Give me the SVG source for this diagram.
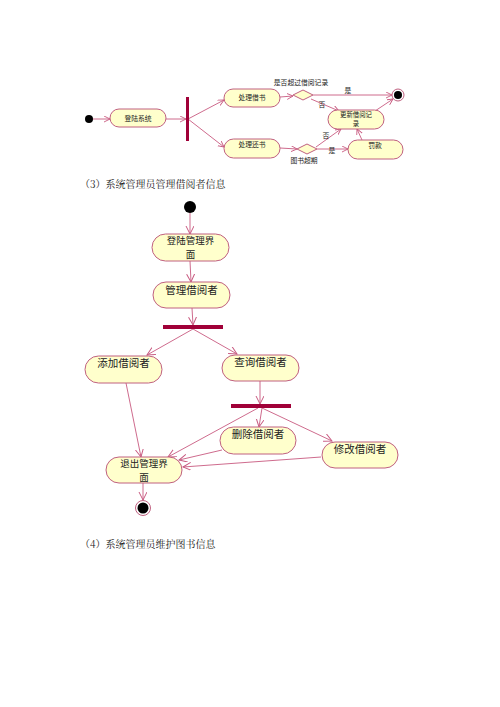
<svg xmlns="http://www.w3.org/2000/svg" width="500" height="707" viewBox="0 0 500 707">
<defs>
<style>
.n{fill:#ffffcc;stroke:#c06080;stroke-width:1}
.l{fill:none;stroke:#c85a80;stroke-width:0.9}
.bar{fill:#a00038}
.t1{font-family:"Noto Sans CJK SC","Liberation Sans",sans-serif;font-size:6.8px;fill:#222;text-anchor:middle}
.t1s{font-family:"Noto Sans CJK SC","Liberation Sans",sans-serif;font-size:6.4px;fill:#222;text-anchor:middle}
.t2{font-family:"Noto Sans CJK SC","Liberation Sans",sans-serif;font-size:10.5px;fill:#222;text-anchor:middle}
.t2s{font-family:"Noto Sans CJK SC","Liberation Sans",sans-serif;font-size:9.5px;fill:#222;text-anchor:middle}
.cap{font-family:"Noto Serif CJK SC","Noto Sans CJK SC","Liberation Serif",serif;font-size:10px;fill:#222}
</style>
<marker id="a1" markerUnits="userSpaceOnUse" markerWidth="8" markerHeight="8" refX="6" refY="3" orient="auto"><path d="M0,0 L6,3 L0,6" fill="none" stroke="#c85a80" stroke-width="0.9"/></marker>
<marker id="a2" markerUnits="userSpaceOnUse" markerWidth="10" markerHeight="10" refX="8" refY="4" orient="auto"><path d="M0,0 L8,4 L0,8" fill="none" stroke="#c85a80" stroke-width="1"/></marker>
</defs>

<g id="connectors1">
<line class="l" x1="93" y1="119" x2="110" y2="119" marker-end="url(#a1)"/>
<line class="l" x1="166" y1="119" x2="186" y2="119" marker-end="url(#a1)"/>
<line class="l" x1="188" y1="119" x2="224" y2="100" marker-end="url(#a1)"/>
<line class="l" x1="188" y1="119" x2="224" y2="147" marker-end="url(#a1)"/>
<line class="l" x1="280" y1="97" x2="293" y2="96" marker-end="url(#a1)"/>
<line class="l" x1="313" y1="95" x2="392" y2="95" marker-end="url(#a1)"/>
<line class="l" x1="311" y1="99" x2="339" y2="111" marker-end="url(#a1)"/>
<line class="l" x1="280" y1="148" x2="297" y2="149" marker-end="url(#a1)"/>
<line class="l" x1="316" y1="147" x2="341" y2="129" marker-end="url(#a1)"/>
<line class="l" x1="317" y1="149" x2="348" y2="149" marker-end="url(#a1)"/>
<line class="l" x1="362" y1="140" x2="357" y2="129" marker-end="url(#a1)"/>
<line class="l" x1="375" y1="111" x2="393" y2="99" marker-end="url(#a1)"/>
</g>

<g id="start1"><circle cx="89" cy="119" r="4" fill="#000"/></g>
<g id="login-sys"><rect class="n" x="110" y="109" width="56" height="18" rx="9"/><text class="t1" x="138" y="121">登陆系统</text></g>
<g id="fork1"><rect class="bar" x="186" y="97" width="3" height="44"/></g>
<g id="borrow"><rect class="n" x="224" y="89" width="56" height="18" rx="9"/><text class="t1" x="252" y="100">处理借书</text></g>
<g id="dec1"><polygon class="n" points="293,95 303,90 313,95 303,100"/><text class="t1" x="301" y="85">是否超过借阅记录</text></g>
<g id="end1"><circle cx="398" cy="95" r="6" fill="#fff" stroke="#c06080"/><circle cx="398" cy="95" r="4" fill="#000"/></g>
<g id="update"><rect class="n" x="328" y="110" width="56" height="19" rx="9.5"/><text class="t1s" x="356" y="117">更新借阅记</text><text class="t1s" x="356" y="126.4">录</text></g>
<g id="return"><rect class="n" x="224" y="139" width="56" height="19" rx="9.5"/><text class="t1" x="252" y="147">处理还书</text></g>
<g id="dec2"><polygon class="n" points="297,149 307,144 317,149 307,154"/><text class="t1" x="304" y="163">图书超期</text></g>
<g id="fine"><rect class="n" x="348" y="140" width="55" height="19" rx="9.5"/><text class="t1" x="375" y="148">罚款</text></g>
<g id="labels1">
<text class="t1" x="348" y="93">是</text>
<text class="t1" x="322" y="107">否</text>
<text class="t1" x="326" y="138">否</text>
<text class="t1" x="332" y="153">是</text>
</g>

<text class="cap" x="80" y="188">（3）系统管理员管理借阅者信息</text>

<g id="connectors2">
<line class="l" x1="190" y1="213" x2="190" y2="234" marker-end="url(#a2)"/>
<line class="l" x1="190" y1="261" x2="191" y2="282" marker-end="url(#a2)"/>
<line class="l" x1="192" y1="308" x2="193" y2="325" marker-end="url(#a2)"/>
<line class="l" x1="193" y1="329" x2="147" y2="355" marker-end="url(#a2)"/>
<line class="l" x1="193" y1="329" x2="237" y2="354" marker-end="url(#a2)"/>
<line class="l" x1="260" y1="381" x2="260" y2="404" marker-end="url(#a2)"/>
<line class="l" x1="262" y1="408" x2="259" y2="427" marker-end="url(#a2)"/>
<line class="l" x1="262" y1="408" x2="332" y2="441" marker-end="url(#a2)"/>
<line class="l" x1="258" y1="408" x2="168" y2="457" marker-end="url(#a2)"/>
<line class="l" x1="222" y1="450" x2="179" y2="460" marker-end="url(#a2)"/>
<line class="l" x1="321" y1="457" x2="183" y2="467" marker-end="url(#a2)"/>
<line class="l" x1="126" y1="383" x2="141" y2="457" marker-end="url(#a2)"/>
<line class="l" x1="143" y1="483" x2="143" y2="500" marker-end="url(#a2)"/>
</g>

<g id="start2"><circle cx="190" cy="207" r="6" fill="#000"/></g>
<g id="login-ui"><rect class="n" x="152" y="234" width="77" height="27" rx="13.5"/><text class="t2s" x="190.5" y="244">登陆管理界</text><text class="t2s" x="190.5" y="257.9">面</text></g>
<g id="manage"><rect class="n" x="153" y="282" width="77" height="26" rx="13"/><text class="t2" x="191.5" y="294">管理借阅者</text></g>
<g id="fork2"><rect class="bar" x="163" y="325" width="60" height="4"/></g>
<g id="add"><rect class="n" x="85" y="356" width="77" height="27" rx="13.5"/><text class="t2" x="123.5" y="367">添加借阅者</text></g>
<g id="query"><rect class="n" x="222" y="355" width="77" height="26" rx="13"/><text class="t2" x="260.5" y="366">查询借阅者</text></g>
<g id="fork3"><rect class="bar" x="231" y="404" width="60" height="4"/></g>
<g id="delete"><rect class="n" x="220" y="427" width="76" height="27" rx="13.5"/><text class="t2" x="258" y="438">删除借阅者</text></g>
<g id="modify"><rect class="n" x="322" y="442" width="76" height="26" rx="13"/><text class="t2" x="360" y="453">修改借阅者</text></g>
<g id="exit"><rect class="n" x="106" y="457" width="76" height="26" rx="13"/><text class="t2s" x="144" y="467">退出管理界</text><text class="t2s" x="144" y="480.9">面</text></g>
<g id="end2"><circle cx="143" cy="508" r="7.5" fill="#fff" stroke="#c06080"/><circle cx="143" cy="508" r="5.5" fill="#000"/></g>

<text class="cap" x="80" y="548">（4）系统管理员维护图书信息</text>
</svg>
